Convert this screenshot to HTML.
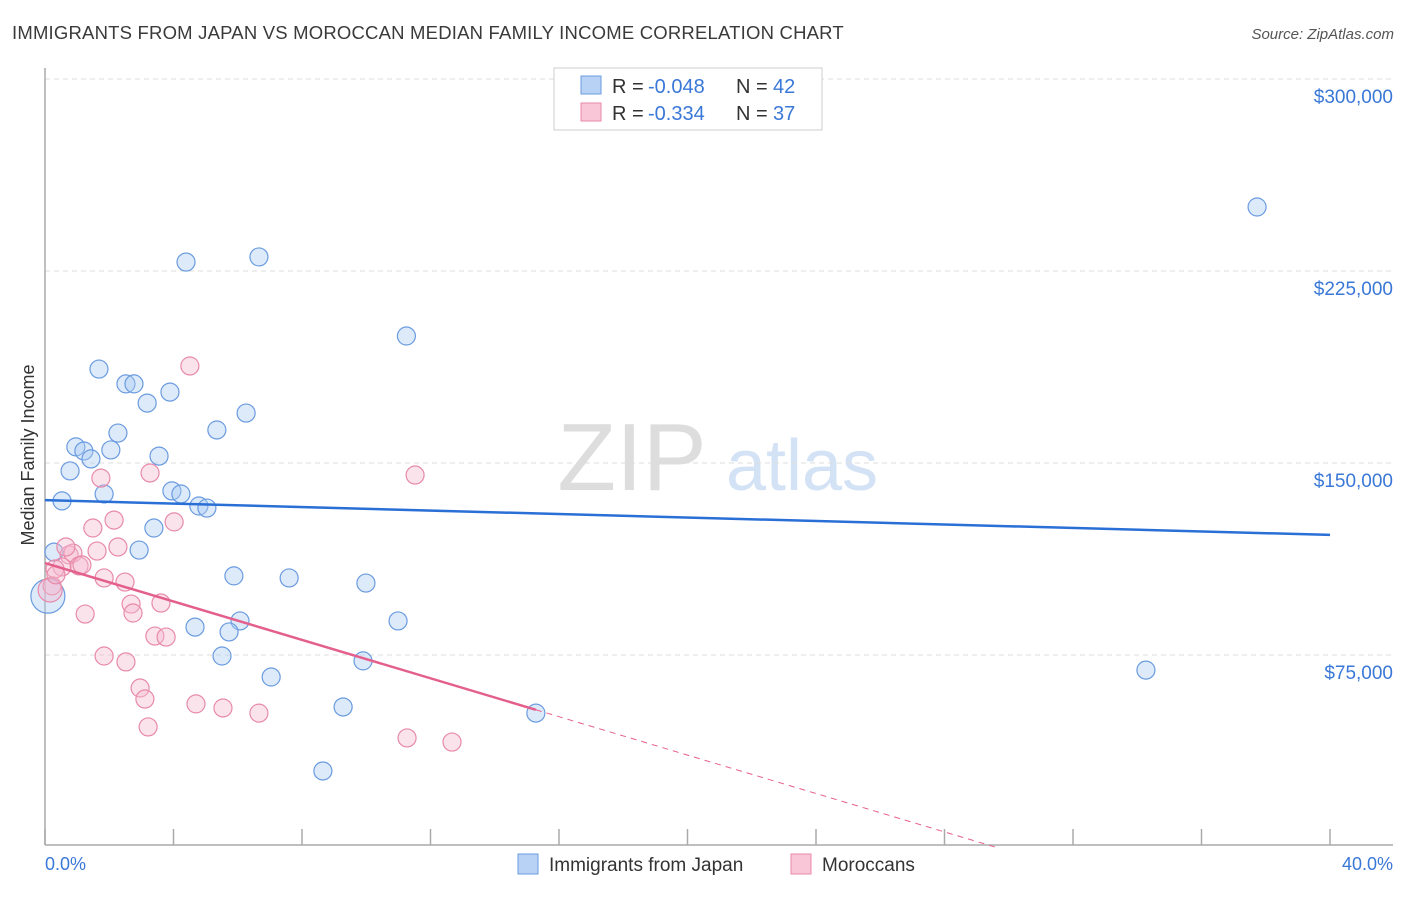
<!DOCTYPE html>
<html><head><meta charset="utf-8"><style>
body{margin:0;background:#fff;font-family:"Liberation Sans",sans-serif}
svg text{font-family:"Liberation Sans",sans-serif}
</style></head><body>
<svg width="1406" height="892" viewBox="0 0 1406 892" xmlns="http://www.w3.org/2000/svg">
<text x="12" y="39" font-size="18.5" fill="#3a3a3a" letter-spacing="0.2">IMMIGRANTS FROM JAPAN VS MOROCCAN MEDIAN FAMILY INCOME CORRELATION CHART</text>
<text x="1394" y="39" font-size="15" fill="#555" font-style="italic" text-anchor="end">Source: ZipAtlas.com</text>
<text x="632" y="490" font-size="96" fill="#ddd" font-family="Liberation Serif" text-anchor="middle">ZIP</text>
<text x="802" y="490" font-size="72" fill="#d3e2f5" text-anchor="middle">atlas</text>
<g id="grid"></g><g id="axes"></g><g id="marks"></g>
<text transform="translate(34,455) rotate(-90)" font-size="18" fill="#333" text-anchor="middle">Median Family Income</text>
<text x="45" y="870" font-size="18" fill="#3a78d8">0.0%</text>
<text x="1393" y="870" font-size="18" fill="#3a78d8" text-anchor="end">40.0%</text>
<g>
<rect x="554" y="68" width="268" height="62" fill="#fff" stroke="#ccc"/>
<rect x="581" y="76" width="20" height="18" fill="#b7d2f4" stroke="#6a9be0"/>
<text x="612" y="93" font-size="20" fill="#333">R =</text>
<text x="648" y="93" font-size="20" fill="#3a78d8">-0.048</text>
<text x="736" y="93" font-size="20" fill="#333">N =</text>
<text x="773" y="93" font-size="20" fill="#3a78d8">42</text>
<rect x="581" y="103" width="20" height="18" fill="#f8c6d6" stroke="#e88aa8"/>
<text x="612" y="120" font-size="20" fill="#333">R =</text>
<text x="648" y="120" font-size="20" fill="#3a78d8">-0.334</text>
<text x="736" y="120" font-size="20" fill="#333">N =</text>
<text x="773" y="120" font-size="20" fill="#3a78d8">37</text>
</g>
<g>
<rect x="518" y="854" width="20" height="20" fill="#b7d2f4" stroke="#6a9be0"/>
<text x="549" y="871" font-size="19" fill="#333">Immigrants from Japan</text>
<rect x="791" y="854" width="20" height="20" fill="#f8c6d6" stroke="#e88aa8"/>
<text x="822" y="871" font-size="19" fill="#333">Moroccans</text>
</g>
</svg>
<script>
const yTicks=[75000,150000,225000,300000];
const yTickLabels=["$75,000","$150,000","$225,000","$300,000"];
const xTicks=[0,4,8,12,16,20,24,28,32,36,40];
const japanX=[1.68,2.52,2.77,3.18,3.89,4.39,6.66,11.25,6.26,5.35,2.27,0.96,1.21,2.05,1.43,3.55,0.78,0.53,1.84,3.95,4.23,4.79,5.04,3.39,2.93,0.28,5.88,7.60,9.99,6.07,10.99,4.67,5.73,5.51,9.90,7.04,9.28,15.28,8.65,34.27,37.73,0.09];
const japanY=[186700,180900,180900,173400,177700,228500,230500,199600,169500,162900,161700,156300,154700,155100,151600,152700,146900,135200,137900,139100,137900,133200,132400,124600,116000,115200,105900,105100,103100,88300,88300,85900,84000,74600,72700,66400,54700,52300,29700,69100,250000,98000];
const morX=[4.51,3.27,1.74,11.52,2.15,4.02,1.49,2.27,1.62,0.75,0.87,1.06,0.53,0.31,1.84,2.49,0.22,0.16,2.68,2.74,3.61,1.25,3.42,3.77,1.84,2.52,2.96,3.11,4.70,5.54,6.66,3.21,11.27,12.67,0.65,1.15,0.34];
const morY=[187900,146100,144100,145300,127700,127000,124600,117200,115600,114100,114800,109800,109400,108600,105100,103500,102000,100400,94900,91400,95300,91000,82400,82000,74600,72300,62100,57800,55900,54300,52300,46900,42600,41000,117200,110200,106300];
const japanTrend=[135500,121900];
const morTrend=[110900,-3750];
const morSolidEnd=15.28;
const NS="http://www.w3.org/2000/svg";
const X=p=>45+p*32.125, Y=v=>847-v/390.625;
function mk(tag,attrs,parent){const e=document.createElementNS(NS,tag);for(const k in attrs)e.setAttribute(k,attrs[k]);document.getElementById(parent).appendChild(e);return e;}
yTicks.forEach((t,i)=>{
 const l=mk('line',{x1:45,x2:1393,y1:Y(t),y2:Y(t),stroke:'#ddd','stroke-dasharray':'5,4'},'grid');
 
 
 const tx=mk('text',{x:1393,y:Y(t)+24,'font-size':19,fill:'#3a78d8','text-anchor':'end'},'axes');
 tx.textContent=yTickLabels[i];
 
 
});
const ya=mk('line',{x1:45,x2:45,y1:68,y2:845,stroke:'#aaa','stroke-width':1.5},'axes');


const xa=mk('line',{x1:45,x2:1393,y1:845,y2:845,stroke:'#aaa','stroke-width':1.5},'axes');


xTicks.forEach(t=>{
 const l=mk('line',{x1:X(t),x2:X(t),y1:829,y2:845,stroke:'#aaa','stroke-width':1.5},'axes');
 
 
});
japanX.forEach((x,i)=>{
 const big=i===japanX.length-1;
 const c=mk('circle',{cx:X(x),cy:Y(japanY[i]),r:big?17:9,fill:'rgba(170,202,242,0.4)',stroke:'#6a9be0','stroke-width':1.2},'marks');
 
 
});
morX.forEach((x,i)=>{
 const big=i===17;
 const c=mk('circle',{cx:X(x),cy:Y(morY[i]),r:big?12:9,fill:'rgba(246,186,208,0.4)',stroke:'#e88aa8','stroke-width':1.2},'marks');
 
 
});
const jl=mk('line',{x1:X(0),y1:Y(japanTrend[0]),x2:X(40),y2:Y(japanTrend[1]),stroke:'#2a6fd6','stroke-width':2.5},'marks');


const mv=p=>morTrend[0]+morTrend[1]*p;
const ml=mk('line',{x1:X(0),y1:Y(mv(0)),x2:X(morSolidEnd),y2:Y(mv(morSolidEnd)),stroke:'#e4608c','stroke-width':2.5},'marks');


const zeroX=-morTrend[0]/morTrend[1];
const md=mk('line',{x1:X(morSolidEnd),y1:Y(mv(morSolidEnd)),x2:X(zeroX),y2:Y(0),stroke:'#e4608c','stroke-width':1,'stroke-dasharray':'6,5'},'marks');


</script>
</body></html>
